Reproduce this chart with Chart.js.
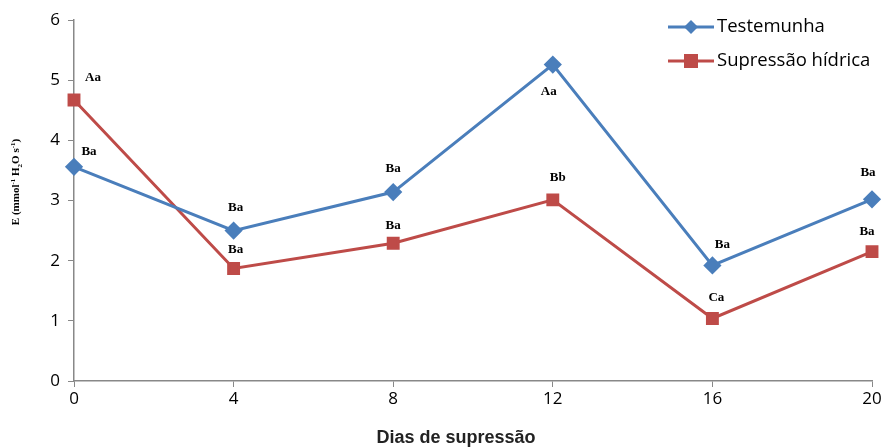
<!DOCTYPE html>
<html>
<head>
<meta charset="utf-8">
<script src="https://cdn.jsdelivr.net/npm/chart.js@4.4.1/dist/chart.umd.min.js"></script>
<style>
  html, body { margin: 0; padding: 0; background: #fff; }
  #wrap { width: 885px; height: 447px; }
</style>
</head>
<body>
<div id="wrap"><canvas id="myChart" width="885" height="447"></canvas></div>
<script>
const dias = [0, 4, 8, 12, 16, 20];
const testemunha = [3.56, 2.50, 3.14, 5.26, 1.92, 3.02];
const supressao = [4.67, 1.87, 2.29, 3.01, 1.04, 2.15];
const letrasTest = ['Ba', 'Ba', 'Ba', 'Aa', 'Ba', 'Ba'];
const letrasSup = ['Aa', 'Ba', 'Ba', 'Bb', 'Ca', 'Ba'];

const blue = '#4a7ebb';
const red = '#be4b48';

// where each letter sits relative to its point (px), copied off the original
const nudges = [
    [[15, -15], [2, -23], [0, -23], [-4, 27], [10, -21], [-4, -27]],
    [[19, -22], [2, -19], [0, -18], [5, -22], [4, -21], [-5, -20]]
];

const letterPlugin = {
    id: 'letters',
    afterDatasetsDraw(chart) {
        const ctx = chart.ctx;
        ctx.save();
        ctx.font = 'bold 13px "Liberation Serif"';
        ctx.fillStyle = '#000';
        ctx.textAlign = 'center';
        ctx.textBaseline = 'middle';
        [letrasTest, letrasSup].forEach((letras, di) => {
            chart.getDatasetMeta(di).data.forEach((pt, i) => {
                const n = nudges[di][i];
                ctx.fillText(letras[i], pt.x + n[0], pt.y + n[1]);
            });
        });
        ctx.restore();
    }
};

// y title with super/subscripts, x title and the legend
const extrasPlugin = {
    id: 'extras',
    afterDraw(chart) {
        const ctx = chart.ctx;
        ctx.save();
        ctx.translate(15, 182);
        ctx.rotate(-Math.PI / 2);
        ctx.fillStyle = '#000';
        ctx.textBaseline = 'alphabetic';
        const parts = [
            ['E (mmol', 0], ['-1', -1], [' H', 0], ['2', 1], ['O s', 0], ['-1', -1], [')', 0]
        ];
        const big = 'bold 11px "Liberation Serif"';
        const small = 'bold 7px "Liberation Serif"';
        let total = 0;
        parts.forEach(p => {
            ctx.font = p[1] == 0 ? big : small;
            total += ctx.measureText(p[0]).width;
        });
        let x = -total / 2;
        parts.forEach(p => {
            ctx.font = p[1] == 0 ? big : small;
            const y = p[1] == -1 ? -4 : (p[1] == 1 ? 3 : 0);
            ctx.fillText(p[0], x, y + 4);
            x += ctx.measureText(p[0]).width;
        });
        ctx.restore();

        ctx.save();
        ctx.fillStyle = '#222';
        ctx.font = 'bold 18px "Liberation Sans"';
        ctx.textAlign = 'center';
        ctx.textBaseline = 'middle';
        ctx.fillText('Dias de supressão', 456, 438);
        ctx.restore();

        const items = [
            { text: 'Testemunha', color: blue, style: 'diamond', y: 27 },
            { text: 'Supressão hídrica', color: red, style: 'square', y: 61 }
        ];
        ctx.save();
        items.forEach(it => {
            ctx.strokeStyle = it.color;
            ctx.lineWidth = 3;
            ctx.beginPath();
            ctx.moveTo(668, it.y);
            ctx.lineTo(714, it.y);
            ctx.stroke();
            ctx.fillStyle = it.color;
            ctx.beginPath();
            if (it.style == 'diamond') {
                ctx.moveTo(691, it.y - 7);
                ctx.lineTo(698, it.y);
                ctx.lineTo(691, it.y + 7);
                ctx.lineTo(684, it.y);
            } else {
                ctx.rect(684, it.y - 7, 14, 14);
            }
            ctx.closePath();
            ctx.fill();
            ctx.fillStyle = '#000';
            ctx.font = '18.5px "Open Sans"';
            ctx.textBaseline = 'middle';
            ctx.fillText(it.text, 717, it.y);
        });
        ctx.restore();
    }
};

const ctx = document.getElementById('myChart');

new Chart(ctx, {
    type: 'line',
    data: {
        datasets: [{
            label: 'Testemunha',
            data: dias.map((d, i) => ({ x: d, y: testemunha[i] })),
            borderColor: blue,
            backgroundColor: blue,
            borderWidth: 3,
            pointStyle: 'rectRot',
            pointRadius: 7,
            pointHoverRadius: 7,
            tension: 0,
            clip: false
        }, {
            label: 'Supressão hídrica',
            data: dias.map((d, i) => ({ x: d, y: supressao[i] })),
            borderColor: red,
            backgroundColor: red,
            borderWidth: 3,
            pointStyle: 'rect',
            pointRadius: 7,
            pointHoverRadius: 7,
            tension: 0,
            clip: false
        }]
    },
    options: {
        responsive: false,
        animation: false,
        layout: { padding: { top: 20, right: 13, left: 0, bottom: 0 } },
        plugins: {
            legend: { display: false },
            tooltip: { enabled: false }
        },
        scales: {
            x: {
                type: 'linear',
                min: 0,
                max: 20,
                afterFit: s => { s.height = 66; },
                afterBuildTicks: s => { s.ticks = dias.map(v => ({ value: v })); },
                border: { color: '#888', width: 1.5 },
                grid: { display: true, drawOnChartArea: false, color: '#888', tickLength: 6 },
                ticks: {
                    color: '#000',
                    font: { family: '"Open Sans"', size: 17 },
                    padding: 2,
                    maxRotation: 0
                }
            },
            y: {
                min: 0,
                max: 6,
                afterFit: s => { s.width = 74; },
                border: { color: '#888', width: 1.5 },
                grid: { display: true, drawOnChartArea: false, color: '#888', tickLength: 6 },
                ticks: {
                    stepSize: 1,
                    color: '#000',
                    font: { family: '"Open Sans"', size: 17 },
                    padding: 8
                }
            }
        }
    },
    plugins: [letterPlugin, extrasPlugin]
});
</script>
</body>
</html>
